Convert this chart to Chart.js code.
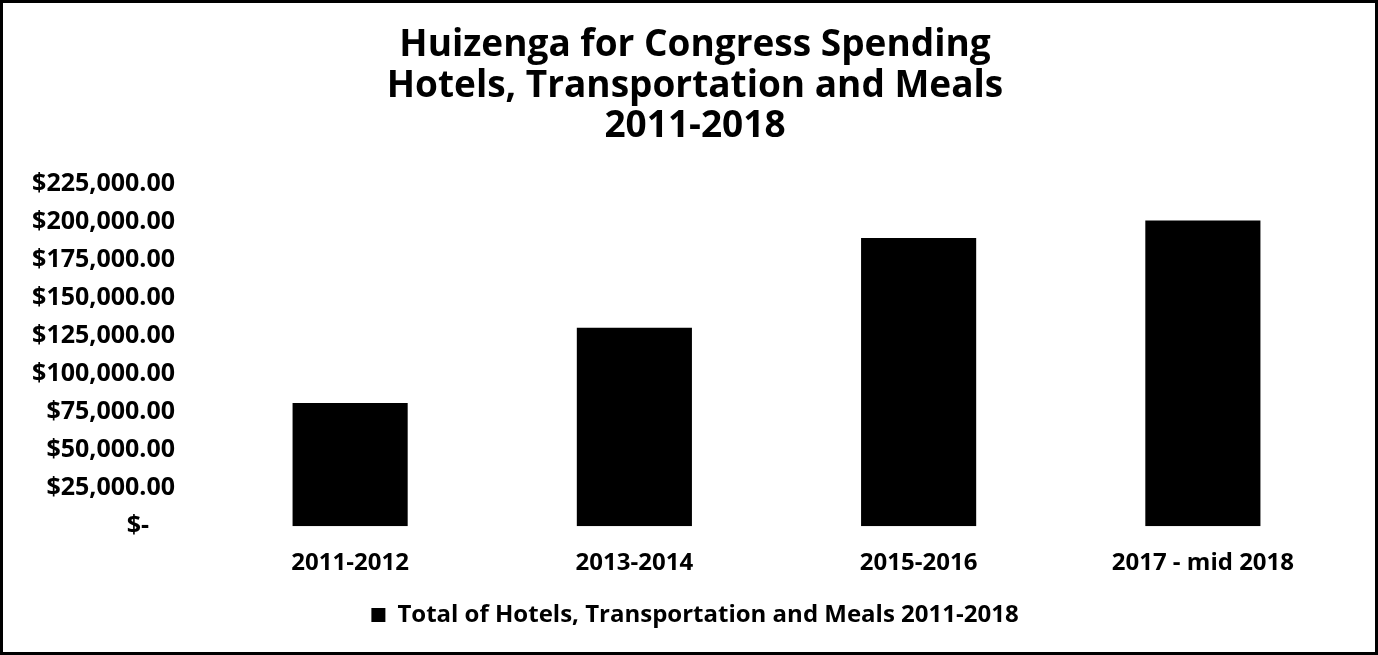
<!DOCTYPE html>
<html>
<head>
<meta charset="utf-8">
<script src="https://cdn.jsdelivr.net/npm/chart.js@4"></script>
<style>
  body { margin: 0; background: #fff; }
  #frame { width: 1378px; height: 655px; box-sizing: border-box; border: 3px solid #000; }
  #frame canvas { display: block; }
</style>
</head>
<body>
<div id="frame"><canvas id="spending" width="1372" height="649"></canvas></div>
<script>
var categories = ['2011-2012', '2013-2014', '2015-2016', '2017 - mid 2018'];
var totals = [81000, 130500, 189500, 201000];
var seriesName = 'Total of Hotels, Transportation and Meals 2011-2018';
var titleLines = ['Huizenga for Congress Spending', 'Hotels, Transportation and Meals', '2011-2018'];

var font = '"Open Sans", Lato, sans-serif';

var ctx = document.getElementById('spending');
var spendingChart = new Chart(ctx, {
  type: 'bar',
  data: {
    labels: categories,
    datasets: [
      {
        label: seriesName,
        data: totals,
        backgroundColor: '#000',
        borderWidth: 0,
        categoryPercentage: 1,
        barPercentage: 0.405,
      },
    ],
  },
  options: {
    responsive: false,
    animation: false,
    layout: {
      // title + legend sit a little right of centre in the original
      padding: { left: 0, right: -12, top: 0, bottom: 15 },
    },
    plugins: {
      title: {
        display: true,
        text: titleLines,
        color: '#000',
        font: { family: font, size: 37, weight: 'bold', lineHeight: 1.1 },
        padding: { top: 22, bottom: 37 },
      },
      legend: {
        position: 'bottom',
        labels: {
          color: '#000',
          font: { family: font, size: 24, weight: 'bold' },
          boxWidth: 14,
          boxHeight: 14,
          padding: 10,
        },
      },
      tooltip: { enabled: false },
    },
    scales: {
      y: {
        min: 0,
        max: 225000,
        ticks: {
          stepSize: 25000,
          color: '#000',
          padding: 25,
          font: { family: font, size: 25, weight: 'bold' },
          callback: function (value) {
            if (value === 0) return '$-    ';
            return '$' + value.toLocaleString('en-US', { minimumFractionDigits: 2 });
          },
        },
        grid: { display: false },
        border: { display: false },
        afterFit: function (scale) {
          scale.width = 205;
        },
      },
      // empty spacer on the right
      y2: {
        position: 'right',
        ticks: { display: false },
        grid: { display: false },
        border: { display: false },
        afterFit: function (scale) {
          scale.width = 42;
        },
      },
      x: {
        ticks: {
          color: '#000',
          padding: 15,
          font: { family: font, size: 24, weight: 'bold' },
        },
        grid: { display: false },
        border: { display: false },
      },
    },
  },
});
</script>
</body>
</html>
